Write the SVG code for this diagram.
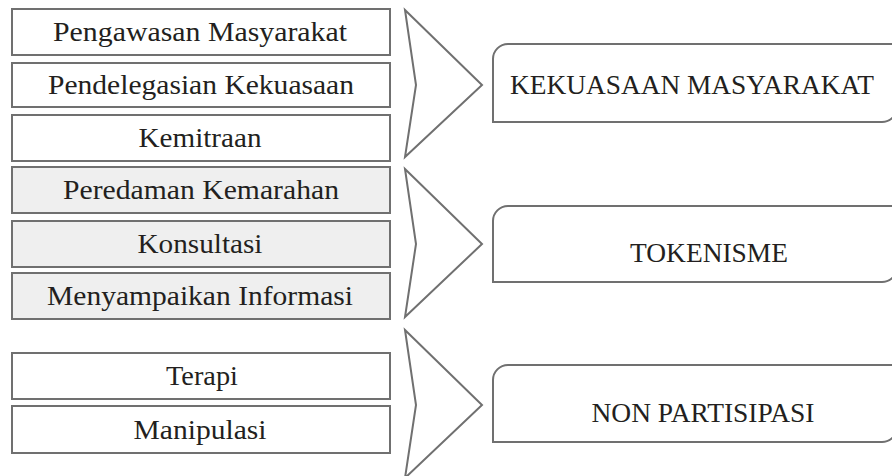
<svg xmlns="http://www.w3.org/2000/svg" width="892" height="476" viewBox="0 0 892 476">
<style>
.box{stroke:#707070;stroke-width:2;fill:#ffffff}
.gray{fill:#efefef}
.chev{stroke:#707070;stroke-width:2;fill:none;stroke-linejoin:miter}
.rbox{stroke:#707070;stroke-width:2;fill:#ffffff}
text{font-family:"Liberation Serif","Times New Roman",serif;fill:#231f20;text-anchor:middle}
.l{font-size:27px}
.r{font-size:28px}
</style>
<rect width="892" height="476" fill="#ffffff"/>
<g id="n1"><rect class="box" x="12" y="9" width="378" height="46"/><text class="l" x="200" y="41" textLength="294" lengthAdjust="spacingAndGlyphs">Pengawasan Masyarakat</text></g>
<g id="n2"><rect class="box" x="12" y="63" width="378" height="44"/><text class="l" x="201" y="94" textLength="306" lengthAdjust="spacingAndGlyphs">Pendelegasian Kekuasaan</text></g>
<g id="n3"><rect class="box" x="12" y="115" width="378" height="46"/><text class="l" x="200" y="147" textLength="123" lengthAdjust="spacingAndGlyphs">Kemitraan</text></g>
<g id="n4"><rect class="box gray" x="12" y="167" width="378" height="46"/><text class="l" x="201" y="199" textLength="276" lengthAdjust="spacingAndGlyphs">Peredaman Kemarahan</text></g>
<g id="n5"><rect class="box gray" x="12" y="221" width="378" height="46"/><text class="l" x="200" y="253" textLength="125" lengthAdjust="spacingAndGlyphs">Konsultasi</text></g>
<g id="n6"><rect class="box gray" x="12" y="273" width="378" height="46"/><text class="l" x="200" y="305" textLength="306" lengthAdjust="spacingAndGlyphs">Menyampaikan Informasi</text></g>
<g id="n7"><rect class="box" x="12" y="353" width="378" height="46"/><text class="l" x="202" y="385" textLength="72" lengthAdjust="spacingAndGlyphs">Terapi</text></g>
<g id="n8"><rect class="box" x="12" y="406" width="378" height="47"/><text class="l" x="200" y="439" textLength="133" lengthAdjust="spacingAndGlyphs">Manipulasi</text></g>
<g id="connectors">
<polygon class="chev" points="405,10 482,85 405,157 416,85"/>
<polygon class="chev" points="405,169 482,244 405,317 416,244"/>
<polygon class="chev" points="405,330 482,405 405,478 416,405"/>
</g>
<g id="r1"><path class="rbox" d="M493,122 V59 A15,15 0 0 1 508,44 H897 V107 A15,15 0 0 1 882,122 Z"/><text class="r" x="692" y="94" textLength="364" lengthAdjust="spacingAndGlyphs">KEKUASAAN MASYARAKAT</text></g>
<g id="r2"><path class="rbox" d="M493,282 V221 A15,15 0 0 1 508,206 H897 V267 A15,15 0 0 1 882,282 Z"/><text class="r" x="709" y="262" textLength="158" lengthAdjust="spacingAndGlyphs">TOKENISME</text></g>
<g id="r3"><path class="rbox" d="M493,442 V380 A15,15 0 0 1 508,365 H897 V427 A15,15 0 0 1 882,442 Z"/><text class="r" x="703" y="422" textLength="223" lengthAdjust="spacingAndGlyphs">NON PARTISIPASI</text></g>
</svg>
